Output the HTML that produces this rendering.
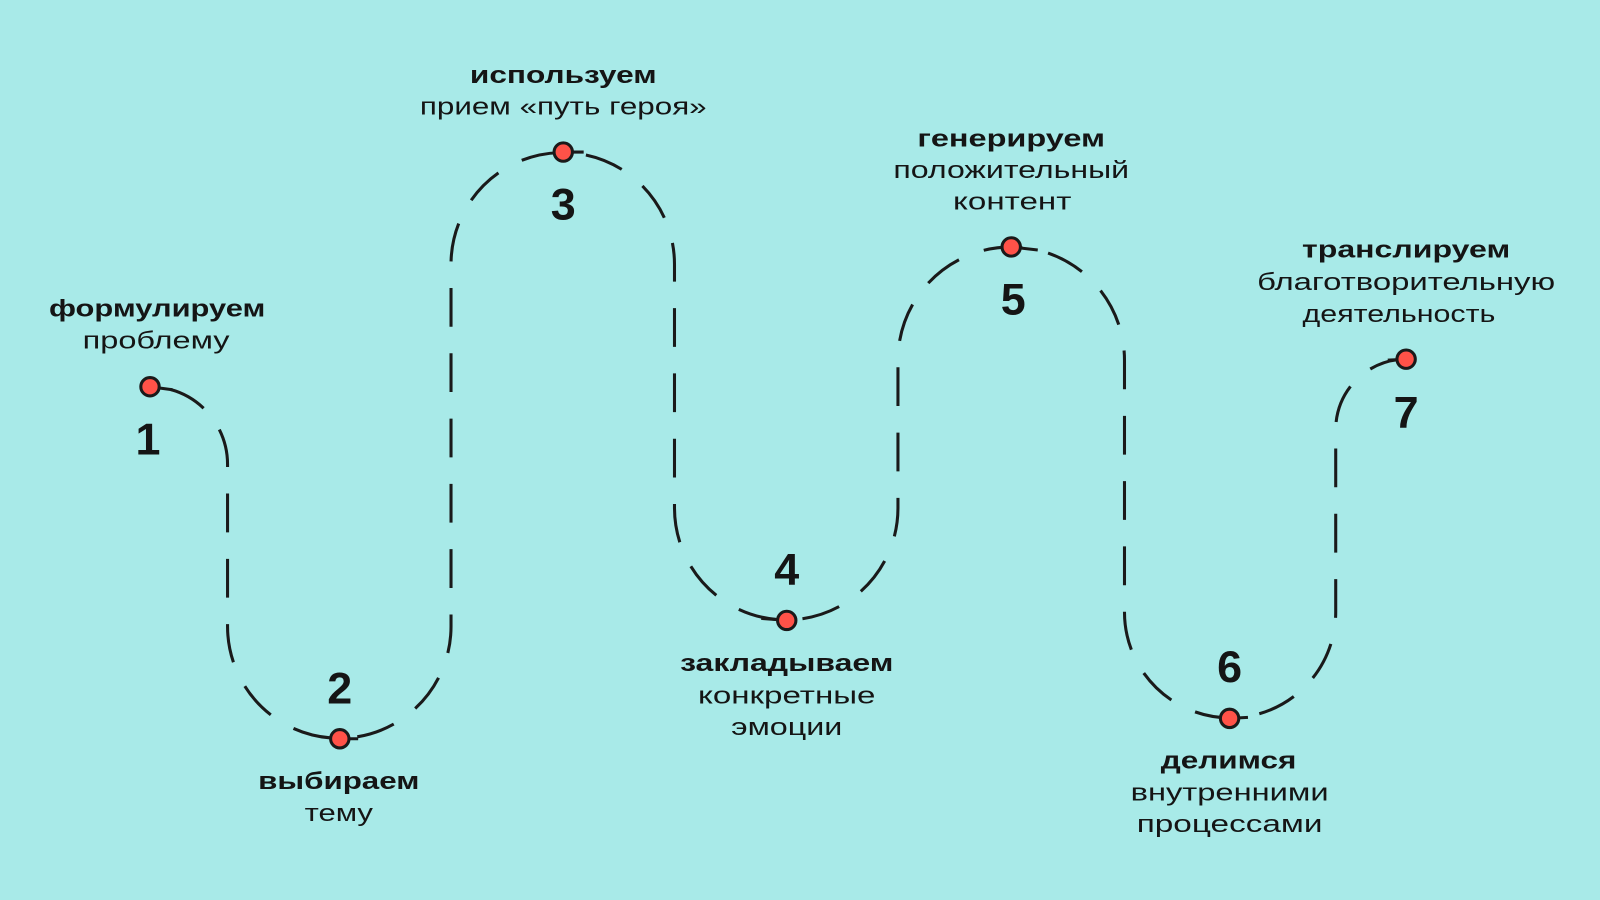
<!DOCTYPE html>
<html><head><meta charset="utf-8"><style>
html,body{margin:0;padding:0;background:#a8eae8;}
svg{display:block}
text{font-family:"Liberation Sans",sans-serif;fill:#151515;text-anchor:middle;dominant-baseline:central}
.b{font-weight:bold;font-size:24px}
.r{font-size:24px}
.n{font-weight:bold;font-size:44px}
</style></head><body>
<svg width="1600" height="900" viewBox="0 0 1568 882" xmlns="http://www.w3.org/2000/svg">
<rect width="1568" height="882" fill="#a8eae8"/>
<path d="M147 379 A76 76 0 0 1 223 455 L223 614 A109.5 109.5 0 0 0 442 614 L442 259 A109.5 109.5 0 0 1 661 259 L661 498 A109.5 109.5 0 0 0 880 498 L880 353 A111 111 0 0 1 1102 353 L1102 600 A103.5 103.5 0 0 0 1309 600 L1309 421 A69 69 0 0 1 1378 352"
 fill="none" stroke="#1a1a1a" stroke-width="3" stroke-dasharray="38 26" stroke-dashoffset="44"/>
<g stroke="#1a1a1a" stroke-width="3" fill="#ff5248">
<line x1="147" y1="379" x2="169" y2="382"/><circle cx="147" cy="379" r="9"/>
<line x1="333" y1="724" x2="351" y2="724"/><circle cx="333" cy="724" r="9"/>
<line x1="552" y1="149" x2="572" y2="149"/><circle cx="552" cy="149" r="9"/>
<line x1="746" y1="606" x2="771" y2="608"/><circle cx="771" cy="608" r="9"/>
<line x1="991" y1="242" x2="1017" y2="245"/><circle cx="991" cy="242" r="9"/>
<line x1="1205" y1="704" x2="1223" y2="703"/><circle cx="1205" cy="704" r="9"/>
<line x1="1360" y1="353" x2="1378" y2="352"/><circle cx="1378" cy="352" r="9"/>
</g>
<text class="n" x="145" y="430">1</text>
<text class="n" x="333" y="674">2</text>
<text class="n" x="552" y="200">3</text>
<text class="n" x="771" y="558">4</text>
<text class="n" x="993" y="293">5</text>
<text class="n" x="1205" y="653">6</text>
<text class="n" x="1378" y="404">7</text>

<text class="b" x="154" y="303" textLength="212" lengthAdjust="spacingAndGlyphs">формулируем</text>
<text class="r" x="153" y="334" textLength="144" lengthAdjust="spacingAndGlyphs">проблему</text>

<text class="b" x="332" y="766" textLength="158" lengthAdjust="spacingAndGlyphs">выбираем</text>
<text class="r" x="332" y="797" textLength="67" lengthAdjust="spacingAndGlyphs">тему</text>

<text class="b" x="552" y="74" textLength="183" lengthAdjust="spacingAndGlyphs">используем</text>
<text class="r" x="552" y="105" textLength="281" lengthAdjust="spacingAndGlyphs">прием «путь героя»</text>

<text class="b" x="771" y="650" textLength="209" lengthAdjust="spacingAndGlyphs">закладываем</text>
<text class="r" x="771" y="682" textLength="174" lengthAdjust="spacingAndGlyphs">конкретные</text>
<text class="r" x="771" y="713" textLength="109" lengthAdjust="spacingAndGlyphs">эмоции</text>

<text class="b" x="991" y="136" textLength="184" lengthAdjust="spacingAndGlyphs">генерируем</text>
<text class="r" x="991" y="167" textLength="231" lengthAdjust="spacingAndGlyphs">положительный</text>
<text class="r" x="992" y="198" textLength="116" lengthAdjust="spacingAndGlyphs">контент</text>

<text class="b" x="1204" y="746" textLength="133" lengthAdjust="spacingAndGlyphs">делимся</text>
<text class="r" x="1205" y="777" textLength="194" lengthAdjust="spacingAndGlyphs">внутренними</text>
<text class="r" x="1205" y="808" textLength="182" lengthAdjust="spacingAndGlyphs">процессами</text>

<text class="b" x="1378" y="245" textLength="204" lengthAdjust="spacingAndGlyphs">транслируем</text>
<text class="r" x="1378" y="277" textLength="292" lengthAdjust="spacingAndGlyphs">благотворительную</text>
<text class="r" x="1371" y="308" textLength="189" lengthAdjust="spacingAndGlyphs">деятельность</text>
</svg>
</body></html>
